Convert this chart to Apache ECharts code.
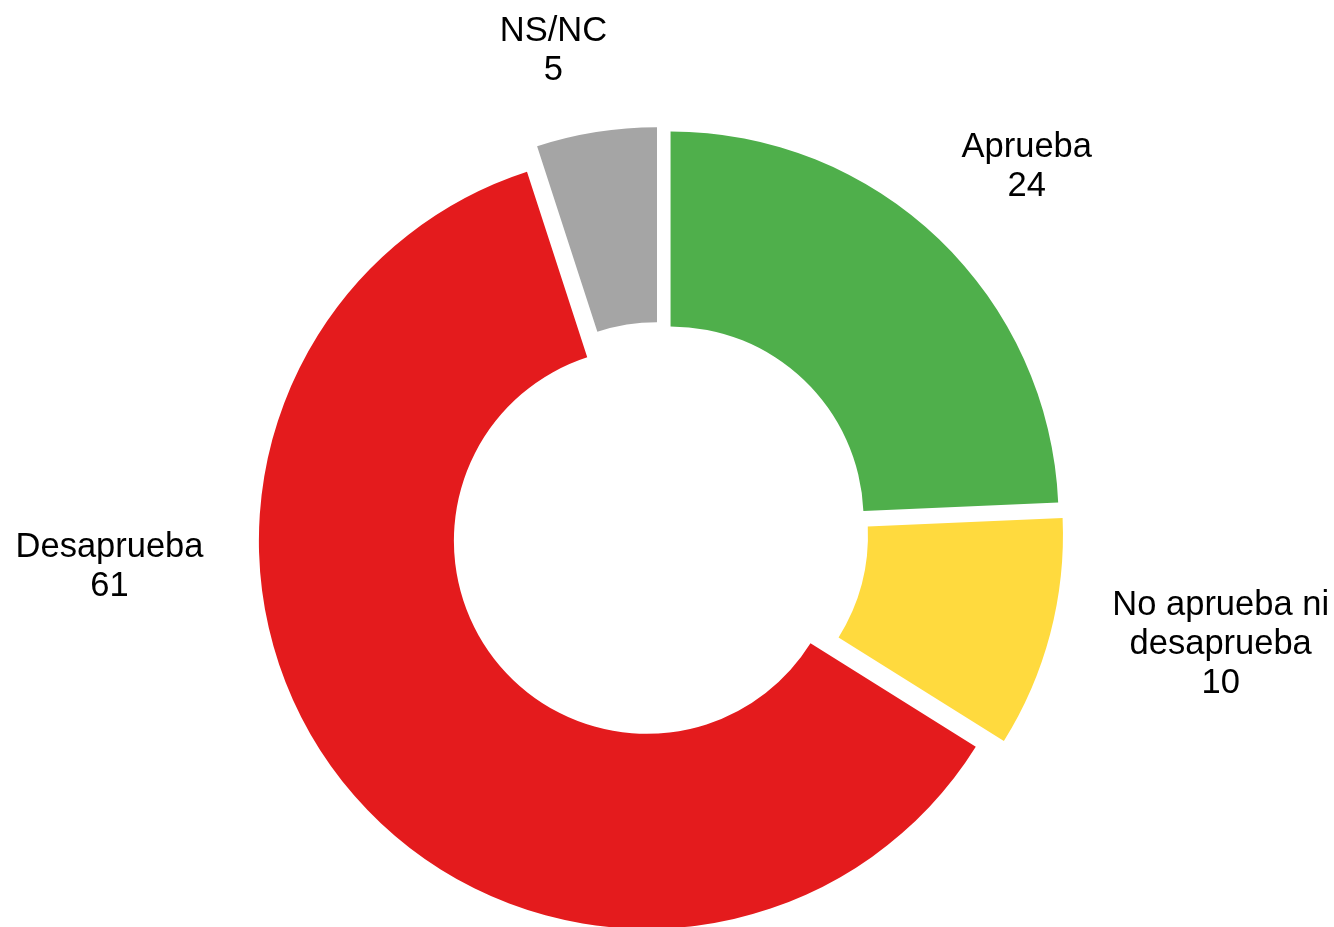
<!DOCTYPE html>
<html>
<head>
<meta charset="utf-8">
<script src="https://cdn.jsdelivr.net/npm/echarts@6/dist/echarts.min.js"></script>
<style>
html,body{margin:0;padding:0;background:#fff;}
#chart{width:1334px;height:927px;}
</style>
</head>
<body>
<div id="chart"></div>
<script>
const categories = ['Aprueba', 'No aprueba ni\ndesaprueba', 'Desaprueba', 'NS/NC'];
const values = [24.3, 9.6, 61.1, 5.0];
const colors = ['#4FAF4B', '#FFDA3E', '#E41B1D', '#A5A5A5'];

// label placement (layout only): angle nudge from slice mid-angle (deg) and distance from centre (px)
const labelAngleNudge = [1.3, -3.6, 34.5, -3.4];
const labelDistance = [519, 572, 551, 494];
const LABEL_BASELINE_SHIFT = 2.5;

const CENTER = [659.5, 531];
const RADIUS = [193, 388];
const total = values.reduce((a, b) => a + b, 0);
const midAngles = [];
let acc = 0;
values.forEach(v => { midAngles.push((acc + v / 2) / total * 360); acc += v; });

const labelStyle = {
  fontFamily: 'Liberation Sans, Arial, sans-serif',
  fontSize: 34.5,
  lineHeight: 39,
  color: '#000000',
  align: 'center'
};

const chart = echarts.init(document.getElementById('chart'), null, {renderer: 'canvas'});
chart.setOption({
  animation: false,
  backgroundColor: '#ffffff',
  series: [{
    type: 'pie',
    center: CENTER,
    radius: RADIUS,
    startAngle: 90,
    clockwise: true,
    selectedMode: 'multiple',
    selectedOffset: 16,
    emphasis: {disabled: true},
    itemStyle: {borderWidth: 0},
    label: {show: false},
    labelLine: {show: false},
    data: categories.map((c, i) => ({
      name: c,
      value: values[i],
      selected: true,
      itemStyle: {color: colors[i]}
    }))
  }, {
    // label layer: same slices, transparent, carries the category labels
    type: 'pie',
    silent: true,
    center: CENTER,
    radius: RADIUS,
    startAngle: 90,
    clockwise: true,
    selectedMode: false,
    emphasis: {disabled: true},
    avoidLabelOverlap: false,
    itemStyle: {color: 'rgba(0,0,0,0)', borderWidth: 0},
    label: Object.assign({
      show: true,
      position: 'outside',
      formatter: p => p.name + '\n' + Math.round(p.value)
    }, labelStyle),
    labelLine: {show: false},
    labelLayout: function (params) {
      const i = params.dataIndex;
      const a = (midAngles[i] + labelAngleNudge[i]) * Math.PI / 180;
      return {
        x: CENTER[0] + labelDistance[i] * Math.sin(a),
        y: CENTER[1] - labelDistance[i] * Math.cos(a) + LABEL_BASELINE_SHIFT,
        align: 'center',
        verticalAlign: 'middle'
      };
    },
    data: categories.map((c, i) => ({name: c, value: values[i]}))
  }]
});
</script>
</body>
</html>
